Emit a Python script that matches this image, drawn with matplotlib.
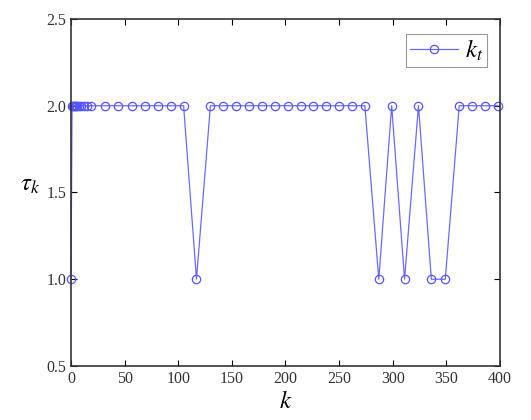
import matplotlib
matplotlib.use('Agg')
import matplotlib.pyplot as plt
import numpy as np

# switching instants k and the value of tau_k at each one
k_vals = [0, 1, 2, 3, 4, 5, 6, 7, 9, 12, 15, 19,
          32, 44, 57, 69, 81, 93, 105, 117, 130, 142, 154, 166,
          178, 190, 202, 214, 226, 238, 250, 262, 274, 287, 299,
          311, 324, 336, 349, 362, 374, 386, 398]
tau_vals = [1, 2, 2, 2, 2, 2, 2, 2, 2, 2, 2, 2,
            2, 2, 2, 2, 2, 2, 2, 1, 2, 2, 2, 2,
            2, 2, 2, 2, 2, 2, 2, 2, 2, 1, 2,
            1, 2, 1, 1, 2, 2, 2, 2]

xticks = [0, 50, 100, 150, 200, 250, 300, 350, 400]
yticks = [0.5, 1.0, 1.5, 2.0, 2.5]

plt.rcParams['font.family'] = ['Liberation Serif', 'DejaVu Serif']
plt.rcParams['mathtext.fontset'] = 'stix'

fig = plt.figure(figsize=(5.31, 4.2), dpi=100)
ax = fig.add_axes([0.1337, 0.1286, 0.8079, 0.8262])

ax.plot(k_vals, tau_vals, color='#6a6aff', lw=0.9, marker='o', ms=6,
        mfc='none', mec='#5555ff', mew=0.9, label='$k_t$', clip_on=False)

ax.set_xlim(0, 400)
ax.set_ylim(0.5, 2.5)
ax.set_xticks(xticks)
ax.set_yticks(yticks)
ax.set_yticklabels(['%.1f' % v for v in yticks])
ax.tick_params(direction='in', top=True, right=True, length=4, labelsize=11.5,
               labelcolor='#333333')
for s in ax.spines.values():
    s.set_linewidth(1.2)
    s.set_color('#333333')

ax.set_xlabel('$k$', fontsize=18, labelpad=3)
ax.set_ylabel(r'$\tau_k$', fontsize=18, rotation=0)
ax.yaxis.set_label_coords(-0.095, 0.49)

leg = ax.legend(loc='upper right', bbox_to_anchor=(0.97, 0.957), fontsize=18,
                fancybox=False, framealpha=1, edgecolor='#999999',
                handlelength=1.9, borderpad=0.15, handletextpad=0.3,
                borderaxespad=0)
leg.get_frame().set_linewidth(0.8)

fig.savefig('out.png', dpi=100)
